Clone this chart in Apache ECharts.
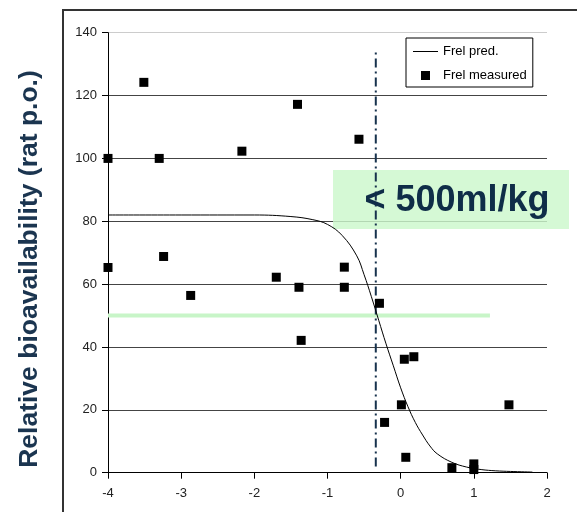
<!DOCTYPE html>
<html>
<head>
<meta charset="utf-8">
<script src="https://cdn.jsdelivr.net/npm/echarts@6/dist/echarts.min.js"></script>
<style>html,body{margin:0;padding:0;background:#fff}#c{width:577px;height:512px}</style>
</head>
<body>
<div id="c"></div>
<script>
// measured points
var measuredX = [-4, -4, -3.51, -3.30, -3.24, -2.87, -2.17, -1.70, -1.41, -1.39, -1.36, -0.77, -0.77, -0.57, -0.29, -0.22, 0.01, 0.05, 0.18, 0.07, 0.70, 1.0, 1.0, 1.48];
var measuredY = [100, 65.3, 124.2, 100, 68.8, 56.4, 102.3, 62.2, 117.2, 59.0, 42.1, 65.4, 59.0, 106.1, 53.9, 16.0, 21.6, 36.1, 36.9, 4.9, 1.6, 2.8, 1.0, 21.6];
// predicted curve
var predX = [-4, -3, -2, -1.5, -1.2, -1.0, -0.8, -0.6, -0.5, -0.4, -0.3, -0.2, -0.1, 0, 0.1, 0.2, 0.3, 0.4, 0.5, 0.7, 0.9, 1.1, 1.3, 1.5, 1.8];
var predY = [82, 82, 82, 81.5, 80.5, 79, 75.5, 69, 63, 56, 48.5, 41, 34, 27, 21, 16, 12, 8.5, 6, 3.3, 1.8, 1.0, 0.6, 0.4, 0.2];
// reference lines
var cutoffX = [-0.34, -0.34];
var cutoffY = [2, 135];
var halfX = [-4, 1.22];
var halfY = [50, 50];
var yTicks = [0, 20, 40, 60, 80, 100, 120, 140];
var xTicks = [-4, -3, -2, -1, 0, 1, 2];
var labelText = '< 500ml/kg';
var yTitle = 'Relative bioavailability (rat p.o.)';

function zip(a, b) { return a.map(function (v, i) { return [v, b[i]]; }); }

var chart = echarts.init(document.getElementById('c'));
var font = 'Arial, "Liberation Sans", sans-serif';
chart.setOption({
  animation: false,
  backgroundColor: '#fff',
  grid: { left: 108, right: 30, top: 32.7, bottom: 39.3, containLabel: false },
  xAxis: {
    type: 'value', min: xTicks[0], max: xTicks[xTicks.length - 1], interval: 1,
    axisLine: { onZero: false, lineStyle: { color: '#000', width: 1 } },
    axisTick: { show: true, length: 6, lineStyle: { color: '#000' } },
    axisLabel: { color: '#222', fontSize: 13, fontFamily: font, margin: 14 },
    splitLine: { show: false }
  },
  yAxis: {
    type: 'value', min: yTicks[0], max: yTicks[yTicks.length - 1], interval: 20,
    axisLine: { show: true, onZero: false, lineStyle: { color: '#000', width: 1 } },
    axisTick: { show: true, length: 6, lineStyle: { color: '#000' } },
    axisLabel: { color: '#222', fontSize: 13, fontFamily: font, margin: 11 },
    splitLine: { show: true, lineStyle: { color: ['#444', '#444', '#444', '#444', '#444', '#444', '#444', '#cccccc'], width: 1 } }
  },
  legend: {
    orient: 'vertical', left: 406, top: 38,
    backgroundColor: '#fff', borderColor: '#000', borderWidth: 1,
    padding: [7, 6, 5, 7], itemWidth: 25, itemHeight: 9, itemGap: 11,
    textStyle: { color: '#000', fontSize: 13, fontFamily: font },
    data: [
      { name: 'Frel pred.', icon: 'path://M0,0h25v1h-25z' },
      { name: 'Frel measured', icon: 'path://M0,0h10v10h-10z' }
    ]
  },
  graphic: [
    { type: 'rect', z: -10, shape: { x: 63, y: 10, width: 530, height: 520 }, style: { fill: 'none', stroke: '#333', lineWidth: 2 } },
    { type: 'rect', z: 1, shape: { x: 333, y: 170, width: 236, height: 59 }, style: { fill: 'rgba(204,248,204,0.82)' } },
    { type: 'text', z: 100, x: 457, y: 201, style: { text: labelText, font: 'bold 36px ' + font, fill: '#0f2d48', textAlign: 'center', textVerticalAlign: 'middle' } },
    { type: 'text', z: 100, x: 30, y: 269, rotation: Math.PI / 2, style: { text: yTitle, font: 'bold 26.5px ' + font, fill: '#1b3550', textAlign: 'center', textVerticalAlign: 'middle' } }
  ],
  series: [
    { name: 'half', type: 'line', data: zip(halfX, halfY), symbol: 'none', silent: true,
      lineStyle: { color: '#c8f5c8', width: 4 }, z: 2 },
    { name: 'cutoff', type: 'line', data: zip(cutoffX, cutoffY), symbol: 'none', silent: true,
      lineStyle: { color: '#17324d', width: 2, type: [9, 4, 2, 4] }, z: 5 },
    { name: 'Frel pred.', type: 'line', data: zip(predX, predY), symbol: 'none', smooth: 0.4,
      lineStyle: { color: '#000', width: 1 }, itemStyle: { color: '#000' }, z: 6 },
    { name: 'Frel measured', type: 'scatter', data: zip(measuredX, measuredY), symbol: 'rect', symbolSize: 9,
      itemStyle: { color: '#000', opacity: 1 }, z: 7 }
  ]
});
</script>
</body>
</html>
